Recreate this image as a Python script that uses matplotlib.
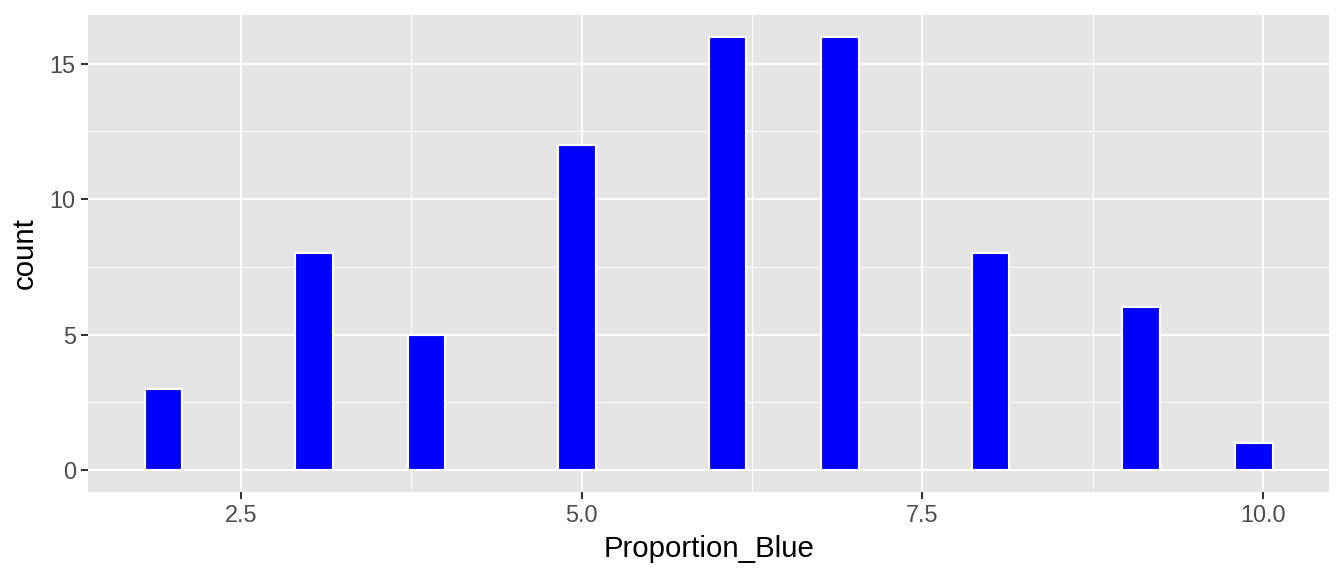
import numpy as np
import matplotlib.pyplot as plt
from matplotlib.ticker import MultipleLocator

plt.rcParams['font.family'] = ['Liberation Sans', 'DejaVu Sans']

# observed values and how often each occurs
proportion_blue = [2, 3, 4, 5, 6, 7, 8, 9, 10]
counts = [3, 8, 5, 12, 16, 16, 8, 6, 1]

# 30 bins as in ggplot's geom_histogram
bin_lo, bin_hi, n_bins = 1.7931, 10.0690, 30
edges = np.linspace(bin_lo, bin_hi, n_bins + 1)

fig = plt.figure(figsize=(7, 3), dpi=192)
ax = fig.add_axes([0.0657, 0.1464, 0.9888 - 0.0657, 0.974 - 0.1464])
ax.set_facecolor('#E5E5E5')

ax.hist(proportion_blue, bins=edges, weights=counts, color='#0000FF',
        edgecolor='white', linewidth=0.8, zorder=3)

span = bin_hi - bin_lo
ax.set_xlim(bin_lo - 0.05 * span, bin_hi + 0.05 * span)
ax.set_ylim(-0.8, 16.8)

ax.xaxis.set_major_locator(MultipleLocator(2.5))
ax.xaxis.set_minor_locator(MultipleLocator(1.25))
ax.yaxis.set_major_locator(MultipleLocator(5))
ax.yaxis.set_minor_locator(MultipleLocator(2.5))
ax.xaxis.set_major_formatter(lambda v, p: f'{v:.1f}')
ax.yaxis.set_major_formatter(lambda v, p: f'{v:.0f}')

ax.grid(which='major', color='white', linewidth=0.75, zorder=0)
ax.grid(which='minor', color='white', linewidth=0.4, zorder=0)
ax.set_axisbelow(True)

for s in ax.spines.values():
    s.set_visible(False)

ax.tick_params(which='major', length=2.75, width=0.75, color='#333333',
               labelcolor='#4D4D4D', labelsize=8.8, pad=2)
ax.tick_params(which='minor', length=0)

ax.set_xlabel('Proportion_Blue', fontsize=11, labelpad=3)
ax.set_ylabel('count', fontsize=11, labelpad=4)

fig.savefig('out.png', dpi=192)
